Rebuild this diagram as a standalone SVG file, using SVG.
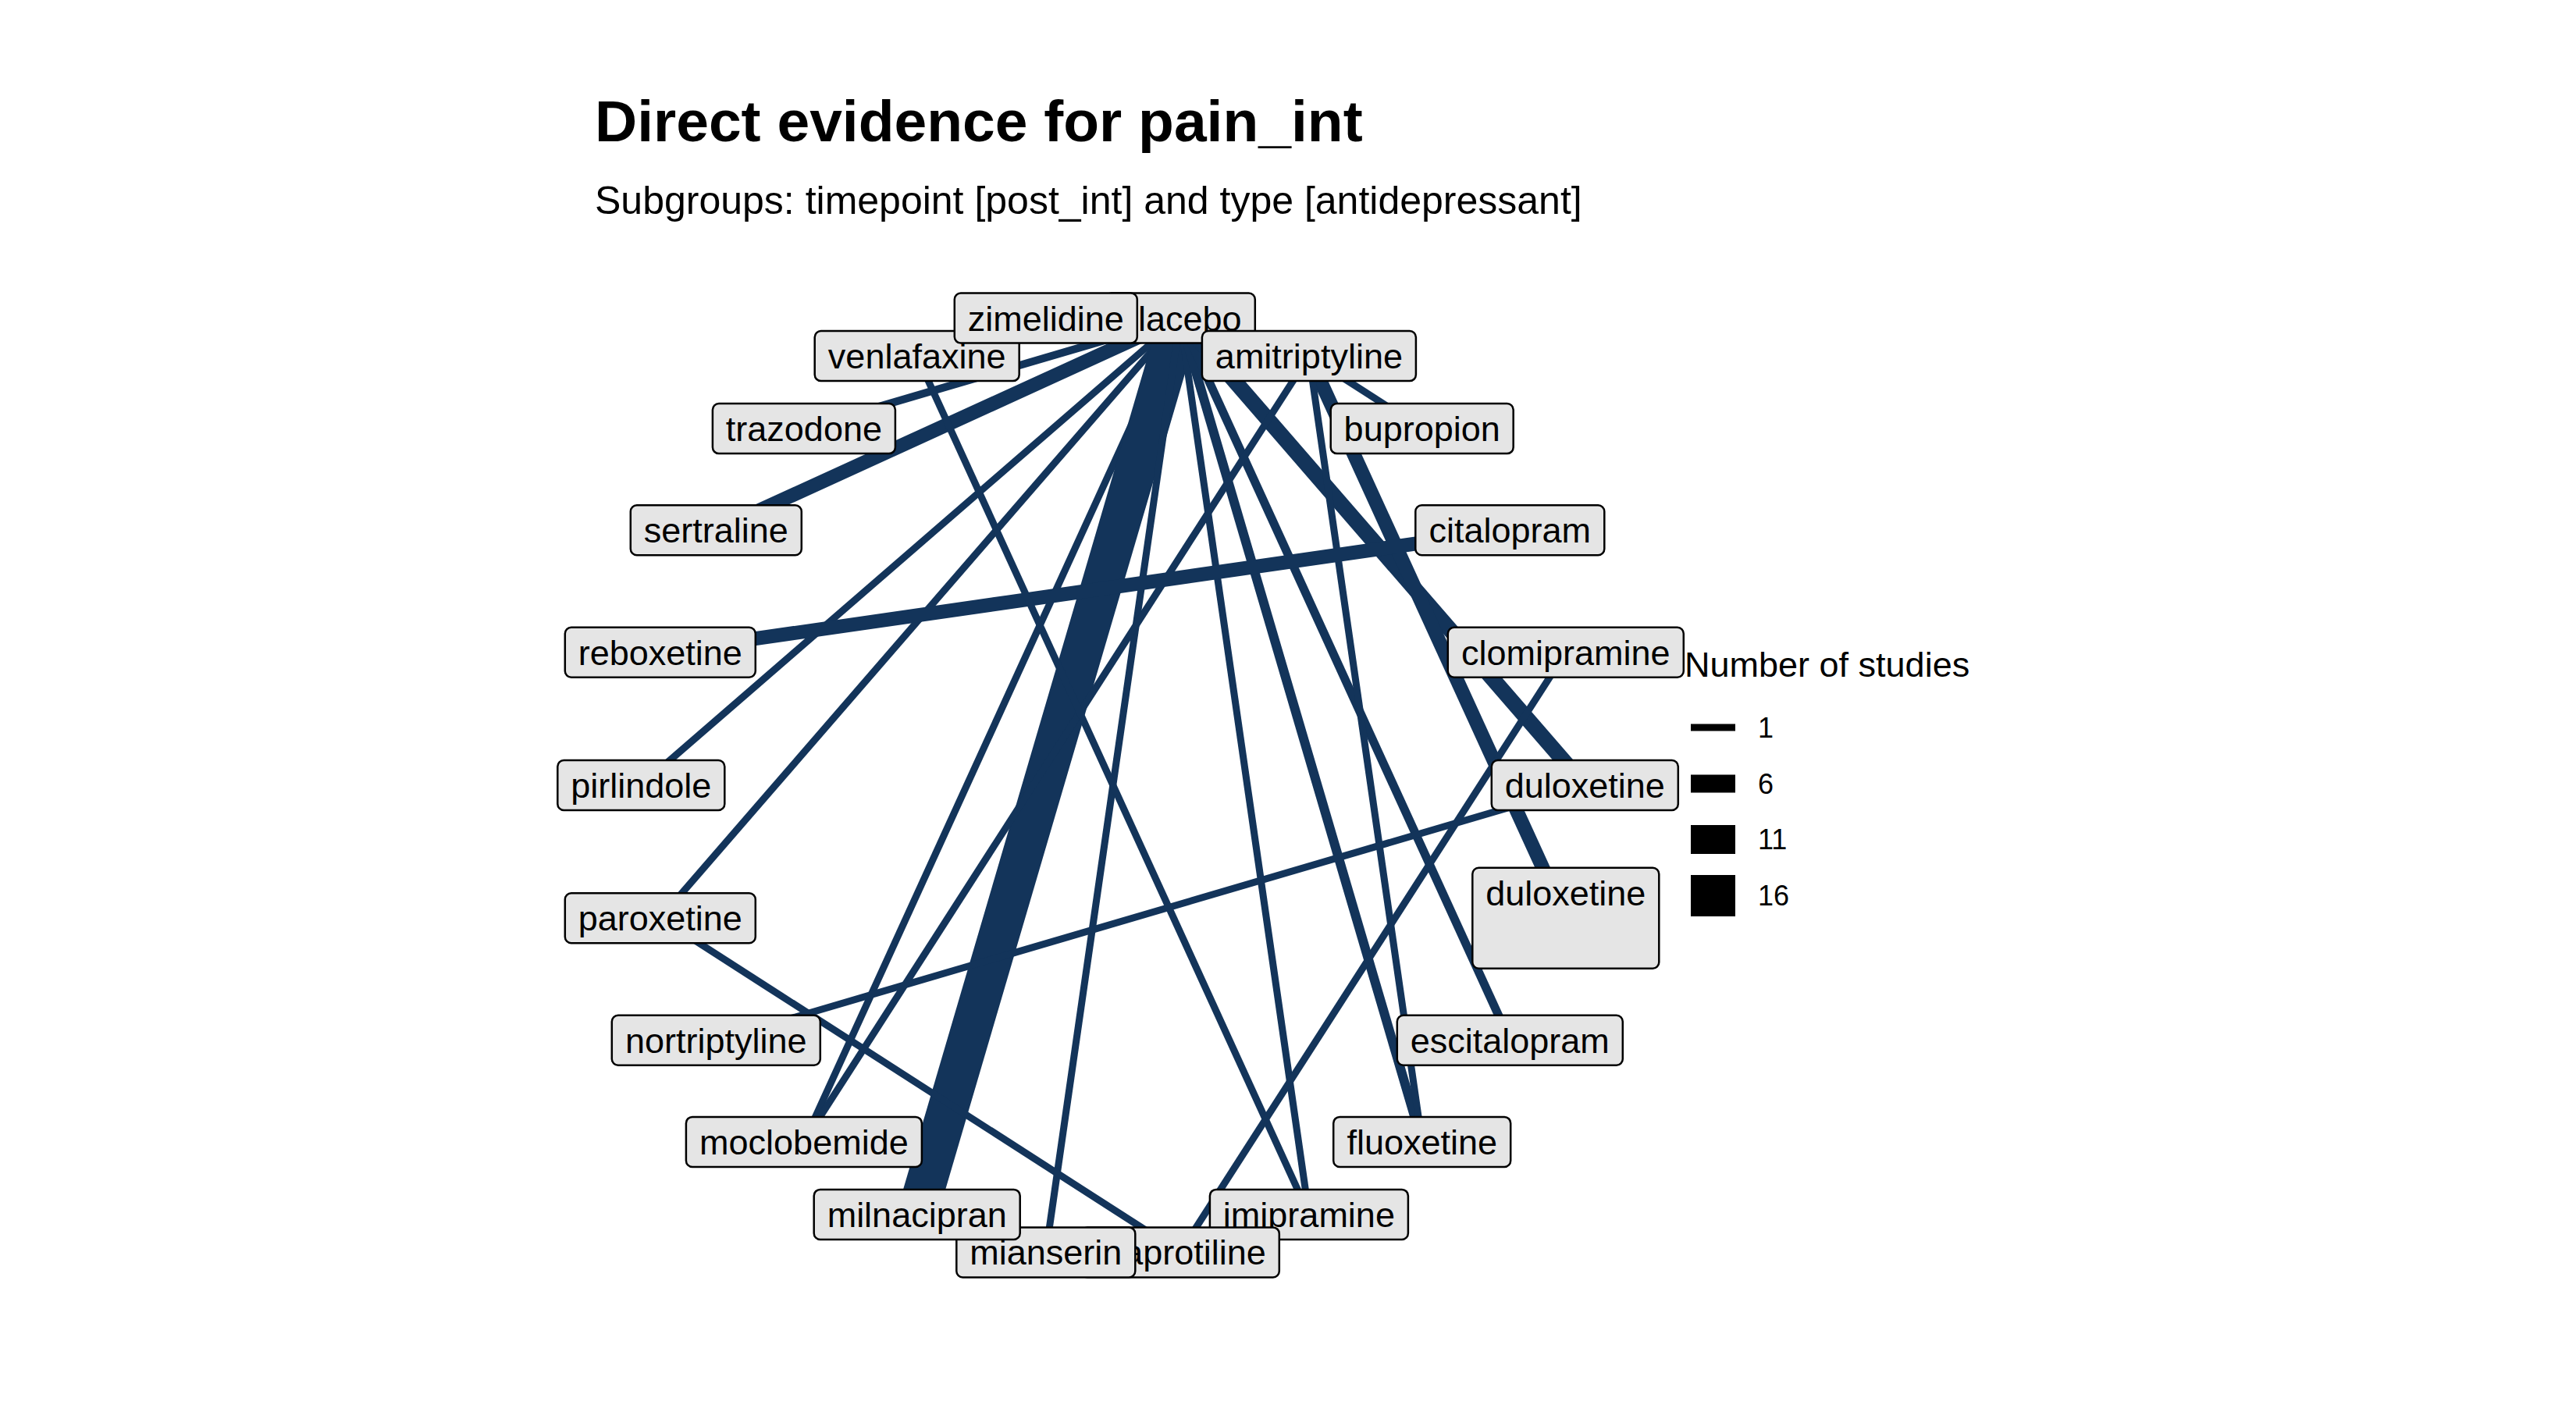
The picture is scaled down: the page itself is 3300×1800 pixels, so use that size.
<svg xmlns="http://www.w3.org/2000/svg" width="3300" height="1800" viewBox="0 0 3300 1800">
<style>
text{font-family:"Liberation Sans",Arial,sans-serif;fill:#000}
.e{stroke:#13345a;stroke-linecap:butt;fill:none}
.b{fill:#e5e5e5;stroke:#000;stroke-width:2.5}
.l{font-size:45px;text-anchor:middle}
.lg{font-size:36px}
</style>
<rect width="3300" height="1800" fill="#fff"/>
<text x="762" y="181" font-size="75" font-weight="bold">Direct evidence for pain_int</text>
<text x="762" y="274" font-size="50">Subgroups: timepoint [post_int] and type [antidepressant]</text>
<g id="connectors">
<line class="e" stroke-width="18" x1="1511.8" y1="407.6" x2="917.3" y2="679.2"/>
<line class="e" stroke-width="10" x1="1511.8" y1="407.6" x2="1029.9" y2="549.1"/>
<line class="e" stroke-width="9" x1="1511.8" y1="407.6" x2="821.3" y2="1006"/>
<line class="e" stroke-width="9" x1="1511.8" y1="407.6" x2="845.8" y2="1176.3"/>
<line class="e" stroke-width="9" x1="1511.8" y1="407.6" x2="1029.9" y2="1462.9"/>
<line class="e" stroke-width="52" x1="1511.8" y1="407.6" x2="1174.7" y2="1555.9"/>
<line class="e" stroke-width="9" x1="1511.8" y1="407.6" x2="1339.8" y2="1604.4"/>
<line class="e" stroke-width="9" x1="1511.8" y1="407.6" x2="1676.9" y2="1555.9"/>
<line class="e" stroke-width="12" x1="1511.8" y1="407.6" x2="1821.7" y2="1462.9"/>
<line class="e" stroke-width="11" x1="1511.8" y1="407.6" x2="1934.3" y2="1332.8"/>
<line class="e" stroke-width="20" x1="1511.8" y1="407.6" x2="2030.3" y2="1006"/>
<line class="e" stroke-width="18" x1="1676.9" y1="456.1" x2="2005.8" y2="1176.3"/>
<line class="e" stroke-width="9" x1="1676.9" y1="456.1" x2="1821.7" y2="549.1"/>
<line class="e" stroke-width="9" x1="1676.9" y1="456.1" x2="1821.7" y2="1462.9"/>
<line class="e" stroke-width="9" x1="1676.9" y1="456.1" x2="1029.9" y2="1462.9"/>
<line class="e" stroke-width="18" x1="845.8" y1="835.7" x2="1934.3" y2="679.2"/>
<line class="e" stroke-width="9" x1="845.8" y1="1176.3" x2="1511.8" y2="1604.4"/>
<line class="e" stroke-width="9" x1="917.3" y1="1332.8" x2="2030.3" y2="1006"/>
<line class="e" stroke-width="9" x1="1174.7" y1="456.1" x2="1676.9" y2="1555.9"/>
<line class="e" stroke-width="9" x1="1511.8" y1="1604.4" x2="2005.8" y2="835.7"/>
</g>
<g id="node-placebo"><rect class="b" x="1415.8" y="375.6" width="192" height="64" rx="8"/><text class="l" x="1511.8" y="423.6">placebo</text></g>
<g id="node-amitriptyline"><rect class="b" x="1539.9" y="424.1" width="274" height="64" rx="8"/><text class="l" x="1676.9" y="472.1">amitriptyline</text></g>
<g id="node-bupropion"><rect class="b" x="1704.7" y="517.1" width="234" height="64" rx="8"/><text class="l" x="1821.7" y="565.1">bupropion</text></g>
<g id="node-citalopram"><rect class="b" x="1813.3" y="647.2" width="242" height="64" rx="8"/><text class="l" x="1934.3" y="695.2">citalopram</text></g>
<g id="node-clomipramine"><rect class="b" x="1854.8" y="803.7" width="302" height="64" rx="8"/><text class="l" x="2005.8" y="851.7">clomipramine</text></g>
<g id="node-duloxetine"><rect class="b" x="1910.8" y="974" width="239" height="64" rx="8"/><text class="l" x="2030.3" y="1022">duloxetine</text></g>
<g id="node-duloxetine-2"><rect class="b" x="1886.3" y="1111.8" width="239" height="129" rx="8"/><text class="l" x="2005.8" y="1159.8">duloxetine</text></g>
<g id="node-escitalopram"><rect class="b" x="1789.8" y="1300.8" width="289" height="64" rx="8"/><text class="l" x="1934.3" y="1348.8">escitalopram</text></g>
<g id="node-fluoxetine"><rect class="b" x="1708.2" y="1430.9" width="227" height="64" rx="8"/><text class="l" x="1821.7" y="1478.9">fluoxetine</text></g>
<g id="node-imipramine"><rect class="b" x="1549.9" y="1523.9" width="254" height="64" rx="8"/><text class="l" x="1676.9" y="1571.9">imipramine</text></g>
<g id="node-maprotiline"><rect class="b" x="1384.8" y="1572.4" width="254" height="64" rx="8"/><text class="l" x="1511.8" y="1620.4">maprotiline</text></g>
<g id="node-mianserin"><rect class="b" x="1225.3" y="1572.4" width="229" height="64" rx="8"/><text class="l" x="1339.8" y="1620.4">mianserin</text></g>
<g id="node-milnacipran"><rect class="b" x="1042.7" y="1523.9" width="264" height="64" rx="8"/><text class="l" x="1174.7" y="1571.9">milnacipran</text></g>
<g id="node-moclobemide"><rect class="b" x="878.9" y="1430.9" width="302" height="64" rx="8"/><text class="l" x="1029.9" y="1478.9">moclobemide</text></g>
<g id="node-nortriptyline"><rect class="b" x="783.8" y="1300.8" width="267" height="64" rx="8"/><text class="l" x="917.3" y="1348.8">nortriptyline</text></g>
<g id="node-paroxetine"><rect class="b" x="723.8" y="1144.3" width="244" height="64" rx="8"/><text class="l" x="845.8" y="1192.3">paroxetine</text></g>
<g id="node-pirlindole"><rect class="b" x="714.3" y="974" width="214" height="64" rx="8"/><text class="l" x="821.3" y="1022">pirlindole</text></g>
<g id="node-reboxetine"><rect class="b" x="723.8" y="803.7" width="244" height="64" rx="8"/><text class="l" x="845.8" y="851.7">reboxetine</text></g>
<g id="node-sertraline"><rect class="b" x="807.8" y="647.2" width="219" height="64" rx="8"/><text class="l" x="917.3" y="695.2">sertraline</text></g>
<g id="node-trazodone"><rect class="b" x="912.9" y="517.1" width="234" height="64" rx="8"/><text class="l" x="1029.9" y="565.1">trazodone</text></g>
<g id="node-venlafaxine"><rect class="b" x="1043.7" y="424.1" width="262" height="64" rx="8"/><text class="l" x="1174.7" y="472.1">venlafaxine</text></g>
<g id="node-zimelidine"><rect class="b" x="1222.8" y="375.6" width="234" height="64" rx="8"/><text class="l" x="1339.8" y="423.6">zimelidine</text></g>
<g id="legend">
<text x="2158" y="867" font-size="45">Number of studies</text>
<rect x="2166" y="927.5" width="57" height="9" fill="#000"/>
<rect x="2166" y="992.5" width="57" height="23" fill="#000"/>
<rect x="2166" y="1057" width="57" height="37" fill="#000"/>
<rect x="2166" y="1121" width="57" height="53" fill="#000"/>
<text class="lg" x="2252" y="945">1</text>
<text class="lg" x="2252" y="1017">6</text>
<text class="lg" x="2252" y="1088">11</text>
<text class="lg" x="2252" y="1160">16</text>
</g>
</svg>
